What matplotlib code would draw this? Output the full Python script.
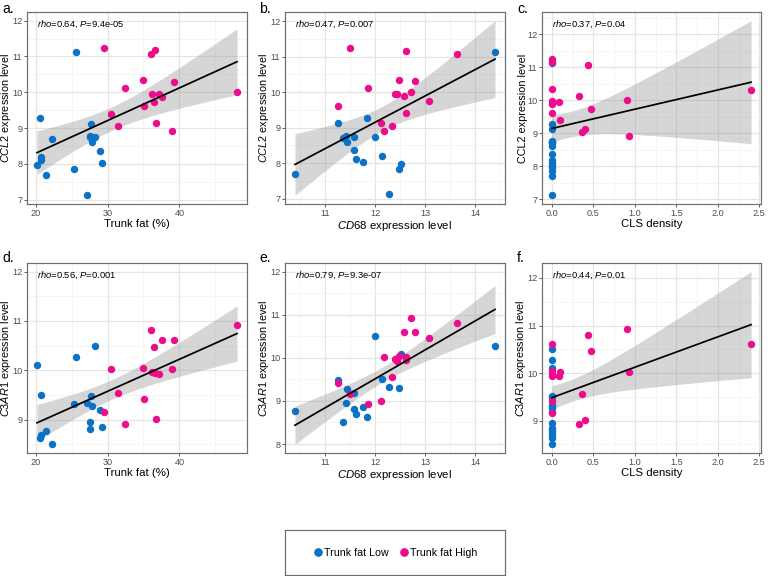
import numpy as np
import matplotlib
matplotlib.use("Agg")
import matplotlib.pyplot as plt
from matplotlib.ticker import MultipleLocator, FuncFormatter
from matplotlib.lines import Line2D

plt.rcParams['font.family'] = ['Liberation Sans', 'DejaVu Sans']
plt.rcParams['mathtext.fontset'] = 'custom'
plt.rcParams['mathtext.rm'] = 'Liberation Sans'
plt.rcParams['mathtext.it'] = 'Liberation Sans:italic'
plt.rcParams['mathtext.bf'] = 'Liberation Sans:bold'

# ---------------- data (one entry per sample) ----------------
group = ["Low"] * 16 + ["High"] * 16
trunk_fat = [25.6, 20.6, 21.4, 27.1, 25.4, 20.2, 22.3, 27.7, 20.7, 20.8, 29.2, 29.0, 27.8, 28.3, 27.6, 27.6,
             29.5, 36.1, 36.6, 32.4, 35.0, 39.3, 48.0, 36.2, 37.2, 37.6, 36.4, 35.1, 30.5, 31.4, 36.8, 38.9]
cd68 = [14.40, 11.84, 10.39, 12.27, 12.48, 12.52, 11.35, 11.26, 12.13, 11.61, 11.76, 11.57, 11.44, 12.00, 11.42, 11.58,
        11.50, 13.63, 12.61, 11.86, 12.48, 12.80, 12.71, 12.39, 12.43, 12.57, 13.08, 11.25, 12.62, 12.33, 12.12, 12.18]
cls_density = [0.0] * 16 + [0.0, 0.43, 0.0, 0.32, 0.0, 2.40, 0.90, 0.0, 0.084, 0.0, 0.47, 0.0, 0.10, 0.36, 0.40, 0.93]
ccl2 = [11.13, 9.28, 7.70, 7.12, 7.85, 7.98, 8.70, 9.12, 8.20, 8.11, 8.02, 8.37, 8.60, 8.74, 8.77, 8.74,
        11.25, 11.06, 11.17, 10.13, 10.35, 10.30, 10.00, 9.96, 9.94, 9.88, 9.74, 9.61, 9.40, 9.05, 9.13, 8.92]
c3ar1 = [10.27, 8.63, 8.77, 9.33, 9.31, 10.10, 8.50, 9.49, 9.51, 8.69, 8.85, 9.19, 9.27, 10.50, 8.95, 8.81,
         9.16, 10.81, 9.94, 8.92, 10.04, 10.61, 10.92, 9.97, 9.93, 10.61, 10.47, 9.41, 10.02, 9.55, 9.01, 10.02]

group_levels = ["Low", "High"]
group_labels = ["Trunk fat Low", "Trunk fat High"]
group_colors = {"Low": "#0B72C6", "High": "#EC0C8C"}

panel_letters = ["a.", "b.", "c.", "d.", "e.", "f."]
stat_labels = [r"$\mathit{rho}$=0.64, $\mathit{P}$=9.4e-05",
               r"$\mathit{rho}$=0.47, $\mathit{P}$=0.007",
               r"$\mathit{rho}$=0.37, $\mathit{P}$=0.04",
               r"$\mathit{rho}$=0.56, $\mathit{P}$=0.001",
               r"$\mathit{rho}$=0.79, $\mathit{P}$=9.3e-07",
               r"$\mathit{rho}$=0.44, $\mathit{P}$=0.01"]

x_sets = [trunk_fat, cd68, cls_density, trunk_fat, cd68, cls_density]
y_sets = [ccl2, ccl2, ccl2, c3ar1, c3ar1, c3ar1]
x_labels = ["Trunk fat (%)", r"$\mathit{CD68}$ expression level", "CLS density"] * 2
y_labels = [r"$\mathit{CCL2}$ expression level", r"$\mathit{CCL2}$ expression level", "CCL2 expression level",
            r"$\mathit{C3AR1}$ expression level", r"$\mathit{C3AR1}$ expression level", r"$\mathit{C3AR1}$ expression level"]
x_steps = [10, 1, 0.5, 10, 1, 0.5]
x_fmt = ["{:.0f}", "{:.0f}", "{:.1f}"] * 2

# ---------------- layout (pixels: left, top, right, bottom) ----------------
W, H = 768, 576
boxes = [(27, 12, 247, 204), (285, 12, 505, 204), (542, 12, 761, 204),
         (27, 263, 247, 453), (285, 263, 505, 453), (542, 263, 761, 453)]
letter_pos = [(2, 2), (259, 2), (517, 2), (2, 251), (259, 251), (517, 251)]


def rect(b):
    l, t, r, bo = b
    return [l / W, 1 - bo / H, (r - l) / W, (bo - t) / H]


def fit_band(x, y, tq=2.042):
    x = np.asarray(x, float)
    y = np.asarray(y, float)
    n = len(x)
    b1, b0 = np.polyfit(x, y, 1)
    resid = y - (b0 + b1 * x)
    s = np.sqrt(np.sum(resid ** 2) / (n - 2))
    xs = np.linspace(x.min(), x.max(), 200)
    yh = b0 + b1 * xs
    se = s * np.sqrt(1.0 / n + (xs - x.mean()) ** 2 / np.sum((x - x.mean()) ** 2))
    return xs, yh, yh - tq * se, yh + tq * se


fig = plt.figure(figsize=(W / 96, H / 96), dpi=96)

for i in range(6):
    ax = fig.add_axes(rect(boxes[i]))
    x = np.asarray(x_sets[i], float)
    y = np.asarray(y_sets[i], float)
    g = np.asarray(group)
    xs, yh, lo, hi = fit_band(x, y)

    ax.fill_between(xs, lo, hi, color="#999999", alpha=0.4, linewidth=0, zorder=2)
    for lev in group_levels:
        m = g == lev
        ax.scatter(x[m], y[m], s=31, color=group_colors[lev], linewidths=0, zorder=3)
    ax.plot(xs, yh, color="black", linewidth=1.3, zorder=4)

    # ggplot-like limits: data + band + annotation height, expanded 5%
    xmin, xmax = x.min(), x.max()
    dx = (xmax - xmin) * 0.05
    ymin = min(y.min(), lo.min())
    ymax = max(y.max(), hi.max(), 12)
    dy = (ymax - ymin) * 0.05
    ax.set_xlim(xmin - dx, xmax + dx)
    ax.set_ylim(ymin - dy, ymax + dy)

    ax.xaxis.set_major_locator(MultipleLocator(x_steps[i]))
    ax.xaxis.set_minor_locator(MultipleLocator(x_steps[i] / 2))
    ax.yaxis.set_major_locator(MultipleLocator(1))
    ax.yaxis.set_minor_locator(MultipleLocator(0.5))
    ax.xaxis.set_major_formatter(FuncFormatter(lambda v, p, f=x_fmt[i]: f.format(v)))
    ax.yaxis.set_major_formatter(FuncFormatter(lambda v, p: "{:.0f}".format(v)))

    ax.grid(True, which="major", color="#E4E4E4", linewidth=0.9, zorder=0)
    ax.grid(True, which="minor", color="#F1F1F1", linewidth=0.5, zorder=0)
    ax.set_axisbelow(True)
    for sp in ax.spines.values():
        sp.set_color("#6E6E6E")
        sp.set_linewidth(0.9)
    ax.tick_params(which="major", direction="out", length=2.3, width=0.7, color="#555555",
                   labelsize=6.8, labelcolor="#4D4D4D", pad=1.2)
    ax.tick_params(which="minor", length=0)

    ax.set_xlabel(x_labels[i], fontsize=8.5, labelpad=1)
    ax.set_ylabel(y_labels[i], fontsize=8.2)
    ax.yaxis.set_label_coords(-0.062, 0.5)

    ax.text(xmin, 0.965, stat_labels[i], transform=ax.get_xaxis_transform(),
            ha="left", va="top", fontsize=7)

    lx, ly = letter_pos[i]
    fig.text(lx / W, 1 - ly / H, panel_letters[i], ha="left", va="top", fontsize=10.5)

# ---------------- legend ----------------
lax = fig.add_axes(rect((285, 530, 505, 575)))
lax.set_xticks([])
lax.set_yticks([])
for sp in lax.spines.values():
    sp.set_color("#6E6E6E")
    sp.set_linewidth(0.9)
handles = [Line2D([], [], marker="o", linestyle="none", markersize=6.5,
                  markerfacecolor=group_colors[lev], markeredgewidth=0) for lev in group_levels]
lax.legend(handles, group_labels, loc="center", ncol=2, frameon=False, fontsize=8,
           handletextpad=0.05, columnspacing=1.0, handlelength=1.0, borderaxespad=0)

fig.savefig("out.png", dpi=96)
